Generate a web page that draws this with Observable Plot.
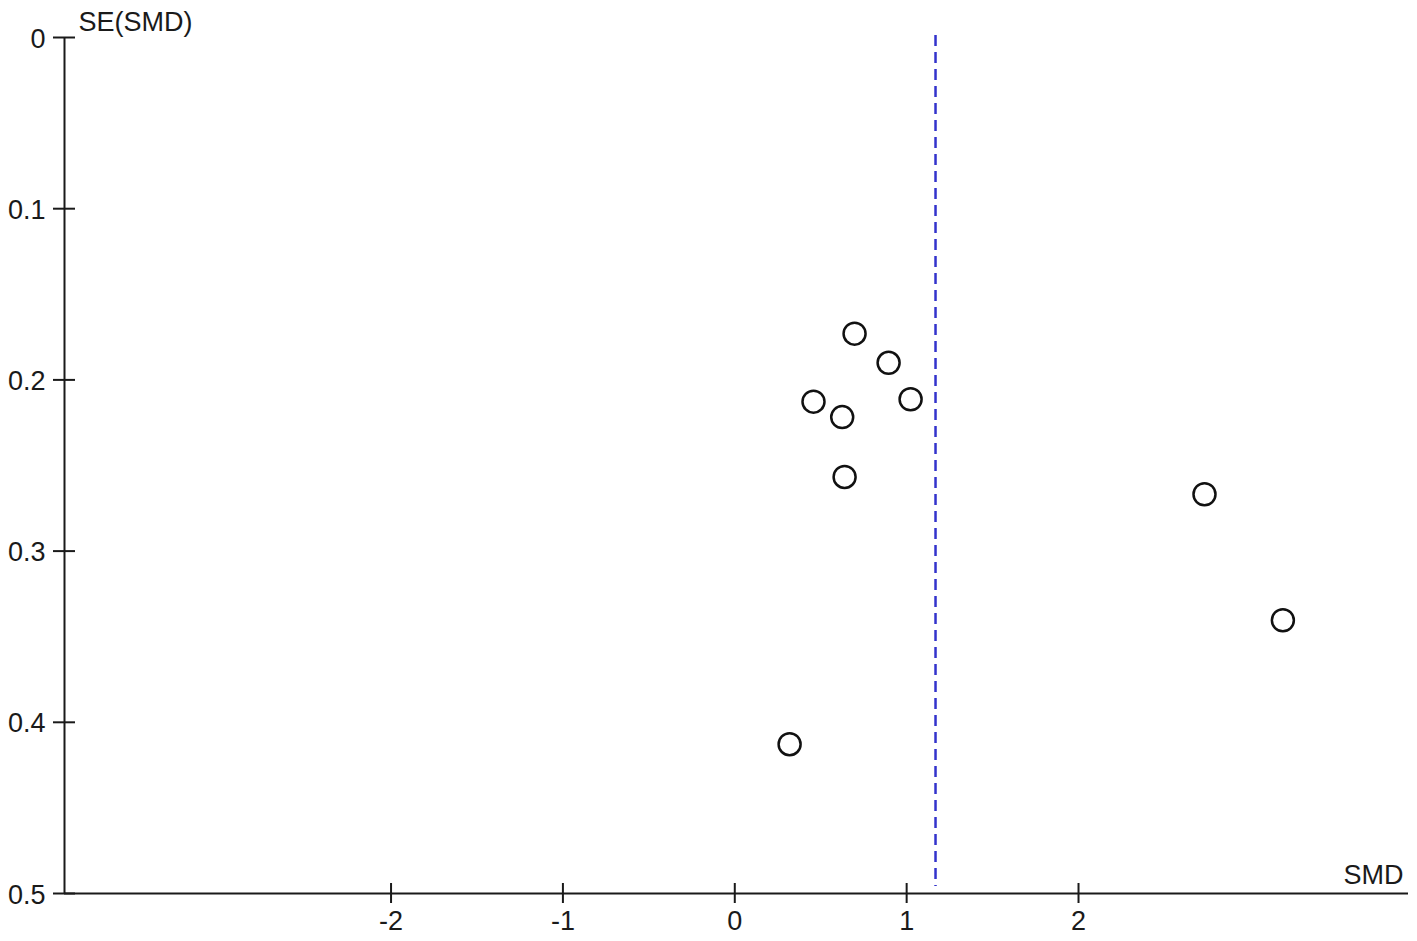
<!DOCTYPE html>
<html>
<head>
<meta charset="utf-8">
<script src="https://cdn.jsdelivr.net/npm/d3@7"></script>
<script src="https://cdn.jsdelivr.net/npm/@observablehq/plot@0.6"></script>
<style>
  html, body { margin: 0; padding: 0; background: #fff; }
  #chart { width: 1417px; height: 941px; }
</style>
</head>
<body>
<div id="chart"></div>
<script>
// Study effect sizes (SMD) and their standard errors
const smd = [0.697, 0.895, 0.458, 1.023, 0.625, 0.639, 2.733, 3.189, 0.319];
const seSmd = [0.173, 0.190, 0.2127, 0.2113, 0.2217, 0.2567, 0.2668, 0.3404, 0.4128];
// Pooled estimate (dashed line)
const pooled = [1.168];
// Axis ticks
const xTicks = [-2, -1, 0, 1, 2];
const yTicks = [0, 0.1, 0.2, 0.3, 0.4, 0.5];
const xDomain = [-3.9, 3.92];
const yDomain = [0, 0.5];

const studies = smd.map((s, i) => ({smd: s, se: seSmd[i]}));

const axisColor = "#1a1a1a";
const font = 27;

const chart = Plot.plot({
  width: 1417,
  height: 941,
  marginLeft: 64,
  marginRight: 9,
  marginTop: 37,
  marginBottom: 48,
  style: {fontFamily: "'Liberation Sans', Arial, sans-serif", fontSize: font + "px", background: "white", color: axisColor},
  x: {domain: xDomain},
  y: {domain: yDomain, reverse: true},
  marks: [
    // axis lines
    Plot.ruleY([yDomain[1]], {stroke: axisColor, strokeWidth: 2}),
    Plot.ruleX([xDomain[0]], {stroke: axisColor, strokeWidth: 2}),
    // crossing ticks
    Plot.axisX(xTicks, {tickSize: 20, dy: -10, tickFormat: () => "", label: null, stroke: axisColor, strokeWidth: 2}),
    Plot.axisY(yTicks, {tickSize: 22, dx: 11, tickFormat: () => "", label: null, stroke: axisColor, strokeWidth: 2}),
    // tick labels
    Plot.axisX(xTicks, {tickSize: 0, tickPadding: 17, fontSize: font, label: null, fill: axisColor, tickFormat: d => String(d)}),
    Plot.axisY(yTicks, {tickSize: 0, tickPadding: 19, dy: 1.5, fontSize: font, label: null, fill: axisColor, tickFormat: d => String(d)}),
    // axis titles
    Plot.text(["SE(SMD)"], {text: d => d, frameAnchor: "top-left", textAnchor: "start", lineAnchor: "bottom", dx: 14, dy: -7, fontSize: font, fill: axisColor}),
    Plot.text(["SMD"], {text: d => d, frameAnchor: "bottom-right", textAnchor: "end", lineAnchor: "bottom", dx: -5, dy: -10, fontSize: font, fill: axisColor}),
    // pooled estimate
    Plot.ruleX(pooled, {x: d => d, stroke: "#3333cc", strokeWidth: 2.5, strokeDasharray: "11,6", insetTop: -2, insetBottom: 7}),
    // studies
    Plot.dot(studies, {x: "smd", y: "se", r: 11, stroke: "#111", strokeWidth: 2.5, fill: "white"})
  ]
});
document.getElementById("chart").appendChild(chart);
</script>
</body>
</html>
